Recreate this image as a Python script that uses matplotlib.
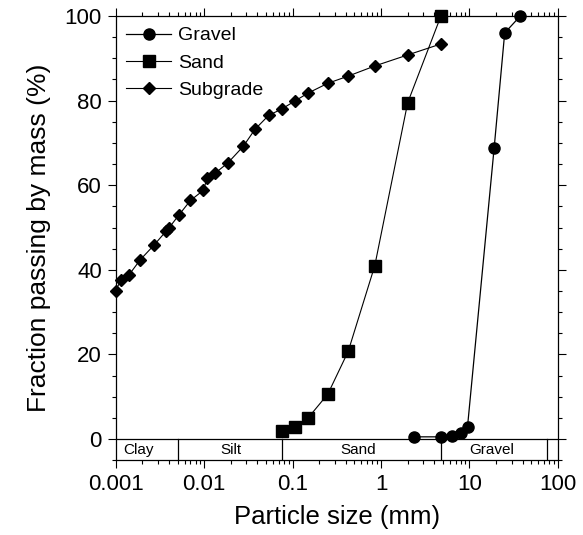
import matplotlib
matplotlib.use("Agg")
import matplotlib.pyplot as plt
from matplotlib.ticker import LogLocator, FixedLocator, MultipleLocator, NullFormatter, FixedFormatter

plt.rcParams['font.family'] = ['Liberation Sans', 'DejaVu Sans']

gravel_size = [2.36, 4.75, 6.3, 8.0, 9.5, 19.0, 25.0, 37.5]
gravel_pct = [0.5, 0.5, 0.8, 1.3, 2.9, 68.8, 96.0, 100.0]

sand_size = [0.075, 0.106, 0.15, 0.25, 0.425, 0.85, 2.0, 4.75]
sand_pct = [1.8, 2.8, 5.0, 10.6, 20.7, 41.0, 79.5, 100.0]

subgrade_size = [0.001, 0.00114, 0.0014, 0.0019, 0.0027, 0.0037, 0.004, 0.0052,
                 0.007, 0.0098, 0.0108, 0.0134, 0.0186, 0.0277, 0.0375, 0.0535,
                 0.075, 0.106, 0.15, 0.25, 0.425, 0.85, 2.0, 4.75]
subgrade_pct = [35.1, 37.5, 38.7, 42.4, 45.8, 49.1, 49.9, 53.0, 56.4, 58.8, 61.7,
                62.9, 65.3, 69.2, 73.2, 76.5, 78.0, 79.9, 81.8, 84.1, 85.8, 88.2,
                90.8, 93.4]

band_edges = [0.005, 0.075, 4.75, 75]
band_names = ["Clay", "Silt", "Sand", "Gravel"]
band_centers = [0.0018, 0.02, 0.55, 18]

x_ticks = [0.001, 0.01, 0.1, 1, 10, 100]
x_labels = ["0.001", "0.01", "0.1", "1", "10", "100"]

fig = plt.figure(figsize=(5.83, 5.35), dpi=100)
ax = fig.add_axes([0.1985, 0.140, 0.7585, 0.830])

ax.plot(gravel_size, gravel_pct, '-o', color='black', lw=0.9, ms=8,
        label='Gravel', clip_on=False, zorder=3)
ax.plot(sand_size, sand_pct, '-s', color='black', lw=0.8, ms=8,
        label='Sand', clip_on=False, zorder=3)
ax.plot(subgrade_size, subgrade_pct, '-D', color='black', lw=0.8, ms=6.5,
        label='Subgrade', clip_on=False, zorder=3)

ax.set_xscale('log')
ax.set_xlim(0.001, 100)
ax.set_ylim(-5, 100)

# classification band
ax.axhline(0, color='black', lw=0.9, zorder=2)
for e in band_edges:
    ax.plot([e, e], [-5, 0], color='black', lw=0.9, zorder=2)
for c, n in zip(band_centers, band_names):
    ax.text(c, -2.5, n, ha='center', va='center', fontsize=11)

ax.xaxis.set_major_locator(FixedLocator(x_ticks))
ax.xaxis.set_major_formatter(FixedFormatter(x_labels))
ax.xaxis.set_minor_locator(LogLocator(base=10, subs=range(2, 10), numticks=20))
ax.xaxis.set_minor_formatter(NullFormatter())
ax.yaxis.set_major_locator(FixedLocator([0, 20, 40, 60, 80, 100]))
ax.yaxis.set_minor_locator(MultipleLocator(5))

ax.tick_params(which='both', direction='out', top=True, right=True,
               labelsize=16, width=0.8)
ax.tick_params(which='major', length=6, pad=4)
ax.tick_params(which='minor', length=3)
for s in ax.spines.values():
    s.set_linewidth(0.9)

ax.set_xlabel("Particle size (mm)", fontsize=18.5, labelpad=7)
ax.set_ylabel("Fraction passing by mass (%)", fontsize=19, labelpad=10)

ax.legend(loc='upper left', frameon=False, fontsize=14, handlelength=2.3,
          handletextpad=0.35, labelspacing=0.5, borderaxespad=0.15,
          bbox_to_anchor=(0.0, 1.0))

fig.savefig("out.png", dpi=100)
